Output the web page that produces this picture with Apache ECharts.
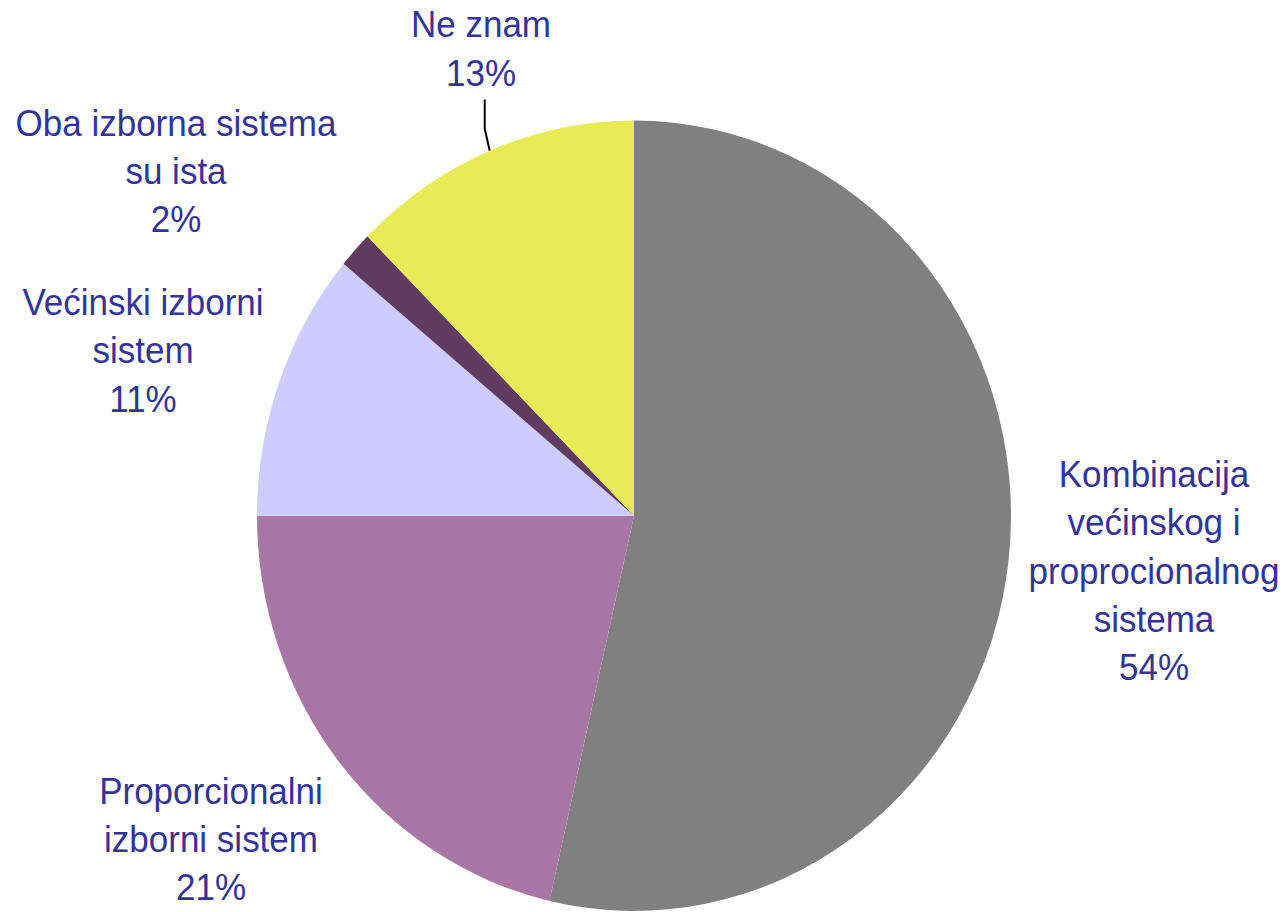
<!DOCTYPE html>
<html>
<head>
<meta charset="utf-8">
<script src="https://cdn.jsdelivr.net/npm/echarts@6/dist/echarts.min.js"></script>
<style>
  html, body { margin: 0; padding: 0; background: #ffffff; overflow: hidden; }
  #chart { position: absolute; left: 0; top: 0; width: 1286px; height: 870px;
           transform: scaleY(1.04828); transform-origin: 0 0; }
</style>
</head>
<body>
<div id="chart"></div>
<script>
// Data
const categories = [
  'Kombinacija\nvećinskog i\nproprocionalnog\nsistema',
  'Proporcionalni\nizborni sistem',
  'Većinski izborni\nsistem',
  'Oba izborna sistema\nsu ista',
  'Ne znam'
];
const values = [53.6, 21.4, 11.0, 1.5, 12.5];
const colors = ['#808080', '#A876A4', '#CCCCFF', '#603C60', '#E8EB55'];

// Label placement (layout only)
const labelPos = [
  [1154, 545],
  [211, 801],
  [143, 335],
  [176, 164],
  [481, 47]
];
const leaderIndex = 4;

const chart = echarts.init(document.getElementById('chart'), null, { renderer: 'svg' });

const data = categories.map((name, i) => ({
  name: name,
  value: values[i],
  itemStyle: { color: colors[i] },
  labelLine: { show: i === leaderIndex }
}));

chart.setOption({
  animation: false,
  backgroundColor: '#ffffff',
  series: [{
    type: 'pie',
    center: [634, 492],
    radius: 377,
    startAngle: 90,
    clockwise: true,
    avoidLabelOverlap: false,
    data: data,
    itemStyle: { borderWidth: 0 },
    label: {
      show: true,
      position: 'outside',
      color: '#333399',
      fontFamily: '"Liberation Sans", Arial, sans-serif',
      fontSize: 35,
      lineHeight: 46,
      align: 'center',
      formatter: p => p.name + '\n' + Math.round(p.value) + '%'
    },
    labelLine: {
      show: true,
      lineStyle: { color: '#000000', width: 2 }
    },
    labelLayout: function (params) {
      const i = params.dataIndex;
      const pos = labelPos[i];
      const res = { x: pos[0], y: pos[1], align: 'center', verticalAlign: 'middle' };
      if (i === leaderIndex && params.labelLinePoints) {
        const p0 = params.labelLinePoints[0];
        const h = params.labelRect.height;
        res.labelLinePoints = [
          [p0[0], p0[1]],
          [p0[0] - 5, p0[1] - 21],
          [p0[0] - 5, pos[1] + h / 2 + 2]
        ];
      }
      return res;
    }
  }]
});
</script>
</body>
</html>
